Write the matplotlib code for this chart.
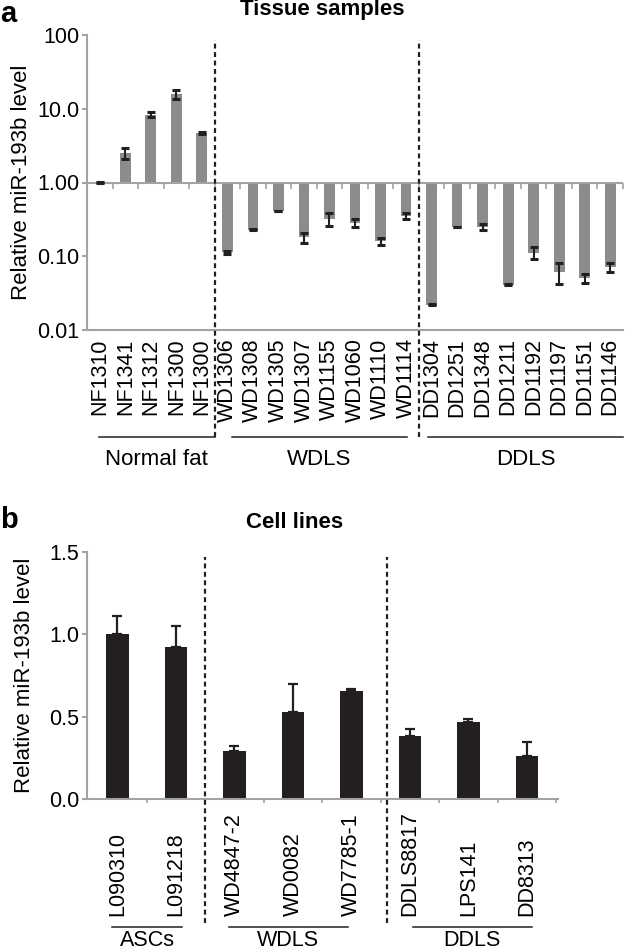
import matplotlib
matplotlib.use('Agg')
import matplotlib.pyplot as plt
import numpy as np

plt.rcParams['font.family'] = ['Liberation Sans', 'DejaVu Sans']

# panel a - tissue samples (log scale, bars start at 1.0)
tissue_names = ['NF1310', 'NF1341', 'NF1312', 'NF1300', 'NF1300',
                'WD1306', 'WD1308', 'WD1305', 'WD1307', 'WD1155', 'WD1060', 'WD1110', 'WD1114',
                'DD1304', 'DD1251', 'DD1348', 'DD1211', 'DD1192', 'DD1197', 'DD1151', 'DD1146']
tissue_vals = [1.0, 2.5, 8.3, 15.8, 4.7,
               0.113, 0.23, 0.41, 0.18, 0.32, 0.285, 0.16, 0.35,
               0.0219, 0.25, 0.25, 0.041, 0.112, 0.062, 0.051, 0.072]
tissue_err = [0.03, 0.43, 0.6, 2.3, 0.2,
              0.005, 0.003, 0.005, 0.028, 0.06, 0.035, 0.017, 0.03,
              0.0004, 0.003, 0.025, 0.0005, 0.021, 0.02, 0.007, 0.01]
tissue_groups = ['Normal fat', 'WDLS', 'DDLS']
tissue_group_sizes = [5, 8, 8]

# panel b - cell lines
cell_names = ['L090310', 'L091218', 'WD4847-2', 'WD0082', 'WD7785-1', 'DDLS8817', 'LPS141', 'DD8313']
cell_vals = [1.0, 0.925, 0.295, 0.531, 0.655, 0.384, 0.47, 0.262]
cell_err = [0.113, 0.127, 0.03, 0.17, 0.015, 0.042, 0.017, 0.083]
cell_groups = ['ASCs', 'WDLS', 'DDLS']
cell_group_sizes = [2, 3, 3]

W, H = 625, 950
fig = plt.figure(figsize=(W / 100, H / 100), dpi=100)


def box(l, t, r, b):
    return [l / W, 1 - b / H, (r - l) / W, (b - t) / H]


axis_gray = '#a3a3a3'
bar_gray = '#8c8c8e'
ink = '#231f20'
fs = 15.5

# ---------------- panel a ----------------
ax = fig.add_axes(box(87, 35, 623, 330))
x = np.arange(len(tissue_names))
tv = np.array(tissue_vals)
ax.set_yscale('log')
ax.bar(x, tv - 1, bottom=1, width=0.42, color=bar_gray, zorder=2)
ax.errorbar(x, tv, yerr=tissue_err, fmt='none', ecolor=ink, elinewidth=1.5,
            capsize=3.2, capthick=2.2, zorder=4)
ax.set_ylim(0.01, 100)
ax.set_xlim(-0.5, len(x) - 0.5)
ax.set_yticks([0.01, 0.1, 1, 10, 100], ['0.01', '0.10', '1.00', '10.0', '100'])
ax.yaxis.set_minor_locator(matplotlib.ticker.NullLocator())
ax.set_xticks(x, tissue_names, rotation=90)
ax.tick_params(axis='x', length=0, pad=6, labelsize=fs)
ax.tick_params(axis='y', direction='out', length=3.6, width=1.5, color=axis_gray,
               pad=2, labelsize=fs)
for s in ['top', 'right']:
    ax.spines[s].set_visible(False)
for s in ['left', 'bottom']:
    ax.spines[s].set_color(axis_gray)
    ax.spines[s].set_linewidth(1.5)

# baseline at 1.00 with small ticks hanging between the bars
ax.axhline(1, color=axis_gray, lw=1.5, zorder=3)
ax.plot(x + 0.5, np.ones(len(x)), linestyle='none', marker=3, markersize=4,
        mew=1.2, color=axis_gray, zorder=3, clip_on=False)

start = 0
pads_a = [(-0.04, 0.5), (0.18, 0.04), (-0.14, 0.5)]
for name, size, (p0, p1) in zip(tissue_groups, tissue_group_sizes, pads_a):
    end = start + size - 1
    x0, x1 = start + p0, end + p1
    ax.plot([x0, x1], [-0.362, -0.362], transform=ax.get_xaxis_transform(),
            clip_on=False, color=ink, lw=1.1)
    ax.text((x0 + x1) / 2, -0.405, name, transform=ax.get_xaxis_transform(),
            ha='center', va='top', fontsize=16)
    if end < len(x) - 1:
        ax.axvline(end + 0.5, ymin=-0.363, ymax=0.983, clip_on=False, color=ink,
                   lw=1.6, linestyle=(0, (2.2, 1.6)), zorder=5)
    start += size

fig.text(22 / W, 1 - 182 / H, 'Relative miR-193b level', rotation=90,
         ha='center', va='center', fontsize=16)
fig.text(322 / W, 1 - 10 / H, 'Tissue samples', ha='center', va='center',
         fontsize=16, fontweight='bold')
fig.text(0, 1 - 14 / H, 'a', ha='left', va='center', fontsize=21, fontweight='bold')

# ---------------- panel b ----------------
bx = fig.add_axes(box(87, 551.7, 558, 799.3))
xb = np.arange(len(cell_names))
bx.bar(xb, cell_vals, width=0.385, color=ink, zorder=2)
bx.errorbar(xb, cell_vals, yerr=[np.zeros(len(xb)), cell_err], fmt='none', ecolor=ink,
            elinewidth=1.6, capsize=3.6, capthick=1.6, zorder=1)
bx.set_ylim(0, 1.5)
bx.set_xlim(-0.52, len(xb) - 0.47)
bx.set_yticks([0, 0.5, 1.0, 1.5], ['0.0', '0.5', '1.0', '1.5'])
bx.set_xticks(xb + 0.5)
bx.tick_params(axis='x', direction='out', length=3, width=1.2, color=axis_gray,
               labelbottom=False)
bx.tick_params(axis='y', direction='out', length=3.6, width=1.5, color=axis_gray,
               pad=2, labelsize=fs)
for s in ['top', 'right']:
    bx.spines[s].set_visible(False)
for s in ['left', 'bottom']:
    bx.spines[s].set_color(axis_gray)
    bx.spines[s].set_linewidth(1.5)

for i, name in enumerate(cell_names):
    bx.text(i, -0.471, name, transform=bx.get_xaxis_transform(), rotation=90,
            ha='center', va='bottom', fontsize=fs)

start = 0
pads_b = [(-0.09, 0.1), (-0.1, -0.06), (0.05, 0.08)]
dash_b = [1.5, 4.6]
for name, size, (p0, p1) in zip(cell_groups, cell_group_sizes, pads_b):
    end = start + size - 1
    x0, x1 = start + p0, end + p1
    bx.plot([x0, x1], [-0.516, -0.516], transform=bx.get_xaxis_transform(),
            clip_on=False, color=ink, lw=1.1)
    bx.text((x0 + x1) / 2, -0.593, name, transform=bx.get_xaxis_transform(),
            ha='center', va='baseline', fontsize=15.5)
    start += size
for d in dash_b:
    bx.axvline(d, ymin=-0.5, ymax=0.98, clip_on=False, color=ink,
               lw=1.6, linestyle=(0, (2.2, 1.6)), zorder=5)

fig.text(25 / W, 1 - 675 / H, 'Relative miR-193b level', rotation=90,
         ha='center', va='center', fontsize=16)
fig.text(295 / W, 1 - 522 / H, 'Cell lines', ha='center', va='center',
         fontsize=16, fontweight='bold')
fig.text(0, 1 - 520 / H, 'b', ha='left', va='center', fontsize=21, fontweight='bold')

fig.savefig('out.png', dpi=100)
